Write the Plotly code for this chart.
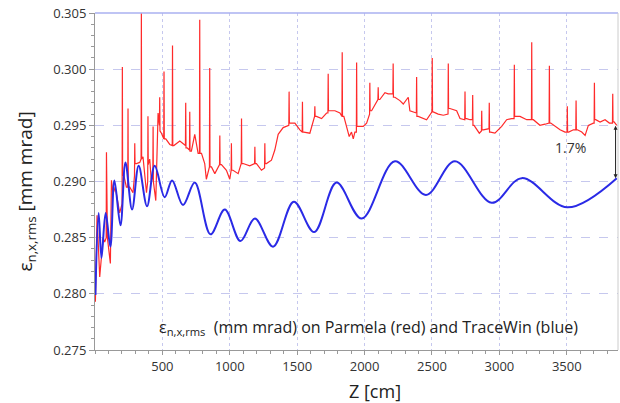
import plotly.graph_objects as go

# TraceWin (blue) extrema
tw_z = [3, 27, 48, 79, 114, 144, 189, 226, 275, 324, 386, 443, 517, 572, 653, 740, 857, 963,
        1079, 1186, 1321, 1475, 1626, 1792, 1978, 2225, 2455, 2670, 2943, 3166, 3504, 3871]
tw_v = [0.2799, 0.2872, 0.2832, 0.2872, 0.2842, 0.2901, 0.2861, 0.2917, 0.2875, 0.2914, 0.2878,
        0.2914, 0.2886, 0.2901, 0.2879, 0.2899, 0.2853, 0.2875, 0.2847, 0.2867, 0.2842, 0.2882,
        0.2855, 0.2899, 0.2867, 0.2918, 0.2888, 0.2918, 0.2881, 0.2903, 0.2877, 0.2903]

# Parmela (red), spikes included
pm_z = [3, 15, 35, 47, 60, 72, 83, 85, 87, 92, 114, 122, 134, 150, 183, 201, 203, 205, 211, 233,
        243, 245, 247, 258, 282, 293, 295, 297, 307, 332, 342, 344, 346, 356, 382, 391, 393, 395,
        406, 418, 429, 431, 433, 451, 460, 468, 478, 480, 482, 493, 510, 512, 514, 525, 555, 573,
        575, 577, 585, 629, 671, 673, 675, 683, 701, 703, 705, 715, 740, 765, 775, 777, 779, 790,
        814, 826, 849, 851, 853, 864, 889, 924, 926, 928, 938, 975, 1000, 1010, 1012, 1014, 1024,
        1062, 1085, 1087, 1089, 1099, 1136, 1148, 1184, 1186, 1188, 1198, 1235, 1258, 1260, 1262,
        1272, 1309, 1334, 1359, 1396, 1433, 1438, 1440, 1442, 1450, 1483, 1520, 1537, 1539, 1541,
        1549, 1594, 1629, 1631, 1633, 1643, 1681, 1718, 1728, 1730, 1732, 1743, 1780, 1817, 1832,
        1834, 1836, 1846, 1886, 1903, 1916, 1928, 1939, 1941, 1943, 1953, 1990, 2015, 2037, 2039,
        2041, 2052, 2089, 2099, 2101, 2103, 2113, 2151, 2175, 2210, 2212, 2214, 2225, 2262, 2287,
        2324, 2336, 2373, 2384, 2386, 2388, 2398, 2460, 2500, 2502, 2504, 2509, 2546, 2584, 2619,
        2621, 2623, 2633, 2683, 2708, 2732, 2743, 2745, 2747, 2757, 2782, 2800, 2802, 2804, 2812,
        2831, 2851, 2867, 2869, 2871, 2881, 2906, 2923, 2925, 2927, 2935, 2967, 3017, 3054, 3091,
        3109, 3111, 3113, 3123, 3153, 3203, 3238, 3240, 3242, 3252, 3301, 3339, 3369, 3371, 3373,
        3381, 3450, 3487, 3502, 3504, 3506, 3514, 3549, 3567, 3569, 3571, 3579, 3611, 3636, 3660,
        3697, 3703, 3705, 3707, 3715, 3747, 3784, 3816, 3839, 3841, 3843, 3851, 3871]
pm_v = [0.2793, 0.2870, 0.2815, 0.2835, 0.2850, 0.2846, 0.2850, 0.2926, 0.2850, 0.2850, 0.2827,
        0.2901, 0.2889, 0.2895, 0.2872, 0.2880, 0.3002, 0.2905, 0.2907, 0.2895, 0.2895, 0.2965,
        0.2895, 0.2895, 0.2890, 0.2905, 0.2934, 0.2916, 0.2916, 0.2917, 0.2920, 0.3050, 0.2920,
        0.2922, 0.2890, 0.2900, 0.2958, 0.2915, 0.2920, 0.2900, 0.2905, 0.2949, 0.2900, 0.2883,
        0.2925, 0.2961, 0.2950, 0.2975, 0.2945, 0.2943, 0.2938, 0.2998, 0.2938, 0.2938, 0.2933,
        0.2932, 0.3021, 0.2932, 0.2932, 0.2936, 0.2932, 0.2970, 0.2930, 0.2930, 0.2928, 0.2962,
        0.2927, 0.2927, 0.2942, 0.2925, 0.2925, 0.3044, 0.2925, 0.2925, 0.2916, 0.2902, 0.2913,
        0.3001, 0.2913, 0.2913, 0.2907, 0.2915, 0.2941, 0.2915, 0.2915, 0.2910, 0.2902, 0.2910,
        0.2934, 0.2910, 0.2910, 0.2907, 0.2916, 0.2956, 0.2916, 0.2916, 0.2915, 0.2914, 0.2916,
        0.2931, 0.2916, 0.2916, 0.2910, 0.2912, 0.2934, 0.2916, 0.2916, 0.2919, 0.2928, 0.2942,
        0.2948, 0.2950, 0.2950, 0.2980, 0.2952, 0.2952, 0.2952, 0.2946, 0.2944, 0.2971, 0.2944,
        0.2944, 0.2943, 0.2958, 0.2967, 0.2958, 0.2958, 0.2956, 0.2961, 0.2961, 0.2996, 0.2963,
        0.2963, 0.2963, 0.2961, 0.2958, 0.3015, 0.2958, 0.2958, 0.2940, 0.2944, 0.2938, 0.2944,
        0.2944, 0.3006, 0.2949, 0.2949, 0.2949, 0.2952, 0.2960, 0.2988, 0.2963, 0.2963, 0.2972,
        0.2973, 0.2984, 0.2973, 0.2973, 0.2979, 0.2978, 0.2978, 0.3005, 0.2975, 0.2975, 0.2972,
        0.2969, 0.2975, 0.2963, 0.2961, 0.2961, 0.2993, 0.2958, 0.2958, 0.2955, 0.2962, 0.3010,
        0.2962, 0.2962, 0.2960, 0.2959, 0.2960, 0.3005, 0.2965, 0.2965, 0.2963, 0.2956, 0.2955,
        0.2955, 0.2980, 0.2956, 0.2956, 0.2955, 0.2955, 0.2977, 0.2950, 0.2950, 0.2947, 0.2943,
        0.2945, 0.2963, 0.2946, 0.2946, 0.2947, 0.2947, 0.2970, 0.2944, 0.2944, 0.2943, 0.2949,
        0.2955, 0.2956, 0.2956, 0.3004, 0.2958, 0.2958, 0.2958, 0.2955, 0.2955, 0.3024, 0.2955,
        0.2955, 0.2950, 0.2951, 0.2952, 0.3003, 0.2952, 0.2952, 0.2946, 0.2944, 0.2944, 0.2967,
        0.2944, 0.2944, 0.2946, 0.2946, 0.2972, 0.2946, 0.2946, 0.2944, 0.2941, 0.2950, 0.2952,
        0.2952, 0.2988, 0.2955, 0.2955, 0.2953, 0.2955, 0.2952, 0.2952, 0.2978, 0.2953, 0.2953,
        0.2950]

x_ticks = [500, 1000, 1500, 2000, 2500, 3000, 3500]
y_ticks = [0.275, 0.280, 0.285, 0.290, 0.295, 0.300, 0.305]

fig = go.Figure()
fig.add_trace(go.Scatter(x=pm_z, y=pm_v, mode="lines",
                         line=dict(color="#ff2a2a", width=1.2), showlegend=False))
fig.add_trace(go.Scatter(x=tw_z, y=tw_v, mode="lines",
                         line=dict(color="#2a2ae6", width=2, shape="spline", smoothing=1.0),
                         showlegend=False))

grid_col = "#c6c8ee"
fig.update_layout(
    width=620, height=403,
    margin=dict(l=95, r=2, t=13, b=53),
    paper_bgcolor="white", plot_bgcolor="white",
    font=dict(family="Open Sans", size=13, color="#333333"),
    xaxis=dict(range=[0, 3880], tickvals=x_ticks, ticktext=[str(t) for t in x_ticks],
               showgrid=True, gridcolor=grid_col, griddash="dot", gridwidth=1,
               showline=True, linecolor="#999999", linewidth=1,
               ticks="outside", ticklen=4, tickcolor="#999999",
               minor=dict(dtick=100, tick0=0, ticks="outside", ticklen=3, tickcolor="#999999", showgrid=False),
               zeroline=False, tickfont=dict(size=13, color="#333333")),
    yaxis=dict(range=[0.275, 0.305], tickvals=y_ticks, ticktext=[f"{t:.3f}" for t in y_ticks],
               showgrid=True, gridcolor=grid_col, griddash="dash", gridwidth=1,
               showline=True, linecolor="#999999", linewidth=1,
               ticks="outside", ticklen=5, tickcolor="#999999",
               minor=dict(dtick=0.001, tick0=0.275, ticks="outside", ticklen=3, tickcolor="#999999", showgrid=False),
               zeroline=False, tickfont=dict(size=13, color="#333333")),
)

# top and right frame lines
fig.add_shape(type="line", xref="paper", yref="paper", x0=0, x1=1, y0=1, y1=1,
              line=dict(color="#aab0f0", width=1.5))
fig.add_shape(type="line", xref="paper", yref="paper", x0=1, x1=1, y0=0, y1=1,
              line=dict(color="#cccccc", width=1))

# axis titles
fig.add_annotation(xref="paper", yref="paper", x=-0.132, y=0.47, xanchor="center", yanchor="middle",
                   text="ε<sub>n,x,rms</sub> [mm mrad]", textangle=-90, showarrow=False,
                   font=dict(family="Open Sans", size=19, color="#222222"))
fig.add_annotation(xref="paper", yref="paper", x=0.535, y=-0.121, xanchor="center", yanchor="middle",
                   text="Z [cm]", showarrow=False,
                   font=dict(family="Open Sans", size=18, color="#222222"))

# in-plot caption
fig.add_annotation(xref="paper", yref="paper", x=0.118, y=0.067, xanchor="left", yanchor="middle",
                   text="ε<sub>n,x,rms</sub>  (mm mrad) on Parmela (red) and TraceWin (blue)",
                   showarrow=False, font=dict(family="Open Sans", size=16, color="#222222"))

# 1.7% difference marker
fig.add_annotation(x=3862, y=0.2903, ax=3862, ay=0.2951, xref="x", yref="y", axref="x", ayref="y",
                   text="", showarrow=True, arrowhead=2, arrowside="end+start", arrowsize=0.8,
                   arrowwidth=1, arrowcolor="#222222")
fig.add_annotation(x=3530, y=0.2930, xref="x", yref="y", text="1.7%", showarrow=False,
                   font=dict(family="Open Sans", size=14, color="#333333"))

fig.write_html("out.html", config={"displayModeBar": False},
               post_script="document.body.style.margin='0';document.body.style.overflow='hidden';")
